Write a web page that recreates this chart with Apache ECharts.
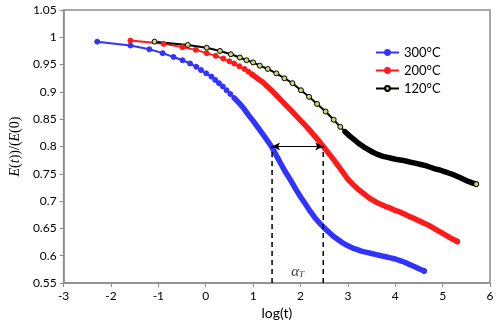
<!DOCTYPE html>
<html>
<head>
<meta charset="utf-8">
<script src="https://cdn.jsdelivr.net/npm/echarts@6/dist/echarts.min.js"></script>
<style>
  html, body { margin: 0; padding: 0; background: #fff; }
  #chart { width: 500px; height: 328px; }
</style>
</head>
<body>
<div id="chart"></div>
<script>
// Relaxation modulus ratio E(t)/E(0) against log(t) at three temperatures.
const logT300 = [-2.29, -1.59, -1.19, -0.91, -0.68, -0.49, -0.33, -0.20, -0.10, 0.01, 0.12, 0.20, 0.28, 0.36, 0.44, 0.52, 0.60,
  0.70, 0.80, 0.90, 1.00, 1.10, 1.20, 1.30, 1.40, 1.50, 1.60, 1.70, 1.80, 1.90, 2.00, 2.10, 2.20, 2.30, 2.40, 2.50,
  2.60, 2.70, 2.80, 2.90, 3.00, 3.10, 3.20, 3.30, 3.40, 3.50, 3.60, 3.70, 3.80, 3.90, 4.00, 4.10, 4.20, 4.30, 4.40, 4.50, 4.61];
const ratio300 = [0.992, 0.985, 0.978, 0.971, 0.964, 0.958, 0.952, 0.946, 0.940, 0.934, 0.928, 0.922, 0.916, 0.910, 0.903, 0.896, 0.889,
  0.880, 0.870, 0.858, 0.847, 0.835, 0.823, 0.811, 0.798, 0.782, 0.766, 0.751, 0.737, 0.722, 0.708, 0.695, 0.682, 0.670, 0.660, 0.651,
  0.643, 0.635, 0.629, 0.623, 0.618, 0.614, 0.611, 0.608, 0.606, 0.604, 0.602, 0.600, 0.598, 0.596, 0.594, 0.591, 0.588, 0.584, 0.580, 0.576, 0.572];

const logT200 = [-1.59, -0.89, -0.49, -0.21, 0.02, 0.21, 0.37, 0.50, 0.60, 0.71, 0.82, 0.90, 0.98,
  1.10, 1.20, 1.30, 1.40, 1.50, 1.60, 1.70, 1.80, 1.90, 2.00, 2.10, 2.20, 2.30, 2.40, 2.48, 2.60, 2.70, 2.80, 2.90,
  3.00, 3.10, 3.20, 3.30, 3.40, 3.50, 3.60, 3.70, 3.80, 3.90, 4.00, 4.10, 4.20, 4.30, 4.40, 4.50, 4.60, 4.70, 4.80,
  4.90, 5.00, 5.10, 5.20, 5.31];
const ratio200 = [0.994, 0.988, 0.982, 0.977, 0.971, 0.966, 0.961, 0.956, 0.952, 0.947, 0.942, 0.937, 0.932,
  0.924, 0.918, 0.910, 0.902, 0.893, 0.884, 0.875, 0.866, 0.857, 0.848, 0.839, 0.829, 0.819, 0.809, 0.800, 0.787, 0.776, 0.764, 0.752,
  0.740, 0.731, 0.723, 0.716, 0.709, 0.703, 0.698, 0.694, 0.690, 0.687, 0.683, 0.680, 0.676, 0.672, 0.668, 0.664, 0.660, 0.656, 0.651,
  0.646, 0.641, 0.636, 0.631, 0.626];

const logT120 = [-1.08, -0.38, 0.02, 0.30, 0.53, 0.72, 0.86, 1.00, 1.14, 1.31, 1.49, 1.66, 1.83, 2.01, 2.18, 2.35, 2.53, 2.70, 2.84,
  2.94, 3.04, 3.14, 3.24, 3.34, 3.44, 3.54, 3.64, 3.74, 3.84, 3.94, 4.04, 4.14, 4.24, 4.34, 4.44, 4.54, 4.64, 4.74, 4.84,
  4.94, 5.04, 5.14, 5.24, 5.34, 5.44, 5.54, 5.64, 5.71];
const ratio120 = [0.992, 0.986, 0.981, 0.975, 0.969, 0.963, 0.958, 0.954, 0.948, 0.942, 0.934, 0.925, 0.916, 0.903, 0.891, 0.878, 0.864, 0.849, 0.836,
  0.827, 0.819, 0.812, 0.805, 0.799, 0.794, 0.789, 0.785, 0.782, 0.780, 0.778, 0.776, 0.775, 0.773, 0.771, 0.769, 0.767, 0.765, 0.762, 0.759,
  0.757, 0.754, 0.751, 0.748, 0.744, 0.740, 0.736, 0.733, 0.731];

// Where the recorded points crowd into a continuous trace
const crowdedFrom = { '300°C': 0.6, '200°C': 1.0, '120°C': 2.9 };

// Horizontal shift a_T read at the 0.8 level
const refLevel = 0.8;
const shiftFrom = 1.40;
const shiftTo = 2.48;
const shiftLabelY = 0.57;

const xTicks = { min: -3, max: 6, step: 1 };
const yTicks = { min: 0.55, max: 1.05, step: 0.05 };

const FONT = 'Lato';

function pairs(xs, ys) { return xs.map((x, i) => [x, ys[i]]); }

function curve(name, xs, ys, color, fill) {
  const data = pairs(xs, ys);
  const from = crowdedFrom[name];
  const last = data.length - 1;
  return [
    {
      name: name, type: 'line', data: data, z: 3,
      symbol: 'circle',
      symbolSize: (v, p) => (v[0] >= from && p.dataIndex !== last) ? 0 : 5,
      showAllSymbol: true,
      lineStyle: { color: color, width: 2 },
      itemStyle: { color: fill, borderColor: color, borderWidth: 1 },
      animation: false
    },
    {
      name: name + ' trace', type: 'line', data: data.filter(d => d[0] >= from - 0.05), z: 2,
      symbol: 'none', silent: true,
      lineStyle: { color: color, width: 5.5, cap: 'round', join: 'round' },
      animation: false
    }
  ];
}

const chart = echarts.init(document.getElementById('chart'), null, { renderer: 'canvas' });

const series = [].concat(
  curve('300°C', logT300, ratio300, '#3333ff', '#3333ff'),
  curve('200°C', logT200, ratio200, '#ff1a1a', '#ff1a1a'),
  curve('120°C', logT120, ratio120, '#000000', '#c8d86a'),
  [
    {
      type: 'line', data: [[shiftFrom, yTicks.min], [shiftFrom, refLevel]], symbol: 'none', silent: true,
      lineStyle: { color: '#000', width: 1.5, type: [5, 4] }, animation: false, z: 4
    },
    {
      type: 'line', data: [[shiftTo, yTicks.min], [shiftTo, refLevel]], symbol: 'none', silent: true,
      lineStyle: { color: '#000', width: 1.5, type: [5, 4] }, animation: false, z: 4,
      markLine: {
        silent: true, animation: false,
        symbol: ['arrow', 'arrow'], symbolSize: [6, 8],
        lineStyle: { color: '#000', width: 1, type: 'solid' },
        label: { show: false },
        data: [[{ coord: [shiftFrom, refLevel] }, { coord: [shiftTo, refLevel] }]]
      }
    },
    {
      type: 'scatter', data: [[(shiftFrom + shiftTo) / 2, shiftLabelY]], symbolSize: 0, silent: true, z: 5,
      label: {
        show: true, position: 'inside', formatter: '{a|α}{b|T}',
        rich: {
          a: { fontFamily: 'Liberation Serif', fontStyle: 'italic', fontSize: 15, color: '#000' },
          b: { fontFamily: 'Liberation Serif', fontStyle: 'italic', fontSize: 9, color: '#000', verticalAlign: 'bottom', padding: [6, 0, 0, 0] }
        }
      },
      animation: false
    }
  ]
);

chart.setOption({
  animation: false,
  backgroundColor: '#fff',
  grid: { left: 58, right: 10, top: 10, bottom: 45, show: true, borderColor: '#8c8c8c', borderWidth: 1.5, containLabel: false },
  legend: {
    data: ['300°C', '200°C', '120°C'],
    orient: 'vertical', left: 370, top: 41,
    itemWidth: 23, itemHeight: 6, itemGap: 5,
    textStyle: { fontFamily: FONT, fontSize: 13, color: '#000' }
  },
  xAxis: {
    type: 'value', min: xTicks.min, max: xTicks.max, interval: xTicks.step,
    name: 'log(t)', nameLocation: 'middle', nameGap: 15,
    nameTextStyle: { fontFamily: FONT, fontSize: 14, color: '#000' },
    axisLine: { show: true, onZero: false, lineStyle: { color: '#8c8c8c', width: 1.5 } },
    axisTick: { show: true, inside: false, length: 4, lineStyle: { color: '#8c8c8c' } },
    axisLabel: { fontFamily: FONT, fontSize: 12, color: '#000', margin: 7 },
    splitLine: { show: false }
  },
  yAxis: {
    type: 'value', min: yTicks.min, max: yTicks.max, interval: yTicks.step,
    name: '{it|E}{n|(}{it|t}{n|))/(}{it|E}{n|(0)}', nameLocation: 'middle', nameGap: 37,
    nameTextStyle: {
      color: '#000',
      rich: {
        it: { fontFamily: 'Liberation Serif', fontStyle: 'italic', fontSize: 14, color: '#000' },
        n: { fontFamily: 'Liberation Serif', fontSize: 14, color: '#000' }
      }
    },
    axisLine: { show: true, onZero: false, lineStyle: { color: '#8c8c8c', width: 1.5 } },
    axisTick: { show: true, inside: false, length: 4, lineStyle: { color: '#8c8c8c' } },
    axisLabel: { fontFamily: FONT, fontSize: 12, color: '#000', margin: 7, formatter: v => String(+v.toFixed(2)) },
    splitLine: { show: false }
  },
  series: series
});
</script>
</body>
</html>
